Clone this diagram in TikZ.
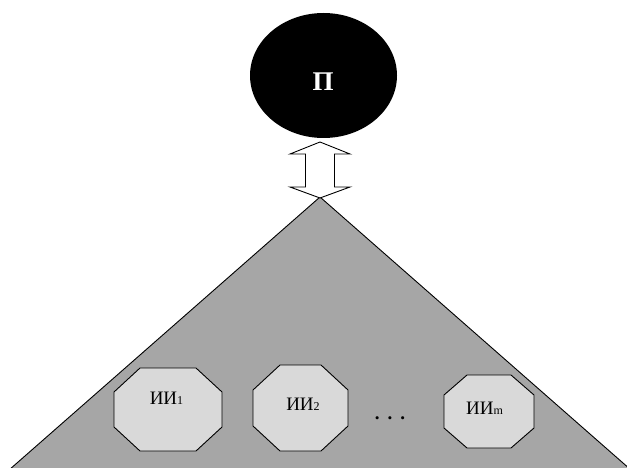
\documentclass[tikz,border=0pt]{standalone}
\usepackage{fontspec}
\setmainfont{Liberation Serif}
\usetikzlibrary{calc,shapes.geometric}
\definecolor{pyramid}{HTML}{A6A6A6}
\definecolor{cell}{HTML}{D9D9D9}
\tikzset{
  outline/.style={draw=black, line width=0.9pt, line join=miter},
  cellbox/.style={inner sep=0pt, outer sep=0pt, draw=none},
  celltext/.style={inner sep=0pt, anchor=base, font=\fontsize{19}{19}\selectfont},
  head/.style={ellipse, fill=black, inner sep=0pt,
    minimum width=147pt, minimum height=125pt},
}
% octagonal cell drawn over a named invisible box: name, chamfer x, chamfer y
\newcommand\cellshape[3]{%
  \filldraw[outline, fill=cell]
    ($(#1.north west)+(#2,0)$) -- ($(#1.north east)+(-#2,0)$) --
    ($(#1.north east)+(0,-#3)$) -- ($(#1.south east)+(0,#3)$) --
    ($(#1.south east)+(-#2,0)$) -- ($(#1.south west)+(#2,0)$) --
    ($(#1.south west)+(0,#3)$) -- ($(#1.north west)+(0,-#3)$) -- cycle;}
\newcommand\sm[1]{{\fontsize{12}{12}\selectfont #1}}
\begin{document}
\begin{tikzpicture}[x=1pt, y=1pt]
  \useasboundingbox (0,0) rectangle (627,-468);
  \clip (0,0) rectangle (627,-468);

  % pyramid
  \coordinate (apex) at (320,-197);
  \coordinate (bl) at (9,-470);
  \coordinate (br) at (631,-470);
  \fill[pyramid] (apex) -- (br) -- (bl) -- cycle;
  \draw[outline] (bl) -- (apex) -- (br);

  % top node
  \node[head] (P) at (323.5,-75.5) {};
  \node[inner sep=0pt, anchor=base, text=white,
        font=\fontsize{27}{27}\selectfont\bfseries] (Plabel) at (323,-91) {П};

  % two-headed block arrow between the top node and the pyramid
  \coordinate (link) at (320,-170);
  \filldraw[outline, fill=white]
    ($(link)+(0,28)$) -- ($(link)+(30,16)$) -- ($(link)+(14.5,16)$) --
    ($(link)+(14.5,-17)$) -- ($(link)+(30,-17)$) -- ($(link)+(0,-28)$) --
    ($(link)+(-30,-17)$) -- ($(link)+(-14.5,-17)$) -- ($(link)+(-14.5,16)$) --
    ($(link)+(-30,16)$) -- cycle;

  % cells
  \node[cellbox, minimum width=108pt, minimum height=83pt] (ii1) at (168,-409.5) {};
  \cellshape{ii1}{26}{24}
  \node[celltext] (t1) at (166.5,-404) {ИИ\sm{1}};

  \node[cellbox, minimum width=95pt, minimum height=86pt] (ii2) at (300.5,-408) {};
  \cellshape{ii2}{27}{25}
  \node[celltext] (t2) at (303,-410.5) {ИИ\sm{2}};

  \node[font=\fontsize{19}{19}\selectfont\bfseries, inner sep=0pt] (dots) at (390,-418)
    {.\hspace{8pt}.\hspace{8pt}.};

  \node[cellbox, minimum width=90pt, minimum height=73pt] (iim) at (489,-411.5) {};
  \cellshape{iim}{23}{20}
  \node[celltext] (tm) at (484.5,-414) {ИИ\sm{m}};
\end{tikzpicture}
\end{document}
